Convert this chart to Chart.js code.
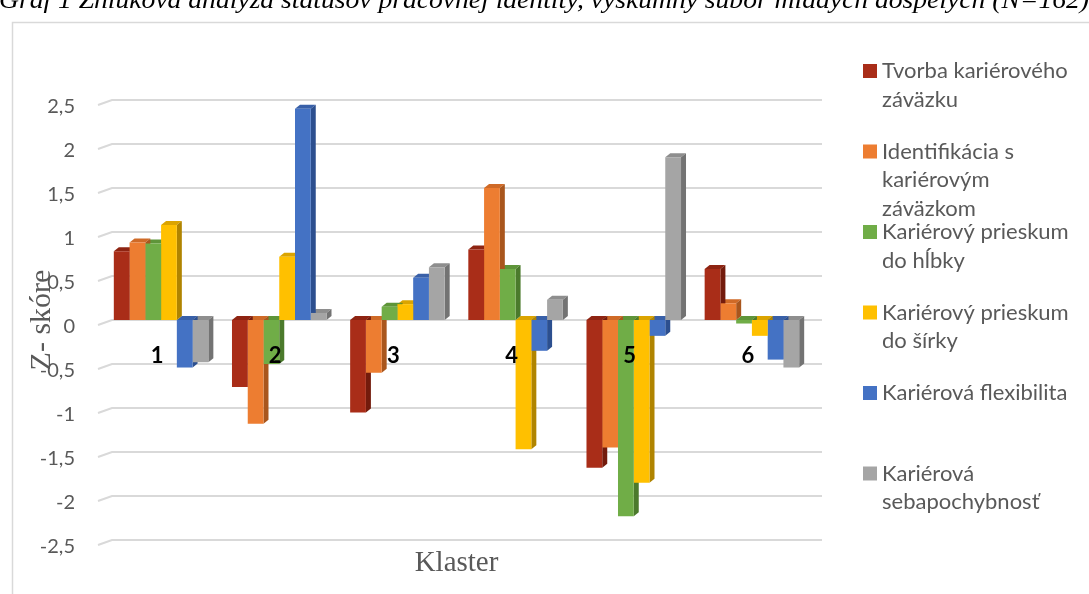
<!DOCTYPE html>
<html>
<head>
<meta charset="utf-8">
<script src="https://cdn.jsdelivr.net/npm/chart.js@4/dist/chart.umd.min.js"></script>
<style>
  html, body { margin: 0; padding: 0; background: #fff; overflow: hidden; }
  canvas { display: block; }
</style>
</head>
<body>
<canvas id="c" width="1089" height="594"></canvas>
<script>
// Cluster profiles (Z-scores) of the six career identity dimensions
const categories = ['1', '2', '3', '4', '5', '6'];
const tvorba         = [0.78, -0.76, -1.05,  0.80, -1.68,  0.58];
const identifikacia  = [0.88, -1.18, -0.60,  1.50, -1.45,  0.19];
const hlbka          = [0.87, -0.50,  0.15,  0.58, -2.23, -0.04];
const sirka          = [1.08,  0.72,  0.18, -1.47, -1.85, -0.18];
const flexibilita    = [-0.54, 2.40,  0.48, -0.35, -0.18, -0.45];
const sebapochybnost = [-0.48, 0.08,  0.60,  0.23,  1.85, -0.54];

const seriesNames = [
  ['Tvorba kariérového', 'záväzku'],
  ['Identifikácia s', 'kariérovým', 'záväzkom'],
  ['Kariérový prieskum', 'do hĺbky'],
  ['Kariérový prieskum', 'do šírky'],
  ['Kariérová flexibilita'],
  ['Kariérová', 'sebapochybnosť']
];
const seriesValues = [tvorba, identifikacia, hlbka, sirka, flexibilita, sebapochybnost];

const frontColors = ['#A92D18', '#ED7D31', '#70AD47', '#FFC000', '#4472C4', '#A5A5A5'];
const topColors   = ['#8E2412', '#CF6A27', '#5E9539', '#DBA400', '#3960A8', '#8E8E8E'];
const sideColors  = ['#731B0C', '#A9561D', '#4B7A2C', '#B08400', '#2C4F8F', '#737373'];

const tickValues = [-2.5, -2, -1.5, -1, -0.5, 0, 0.5, 1, 1.5, 2, 2.5];
const tickLabels = ['-2,5', '-2', '-1,5', '-1', '-0,5', '0', '0,5', '1', '1,5', '2', '2,5'];

const chartTitle = 'Graf 1 Zhluková analýza statusov pracovnej identity, výskumný súbor mladých dospelých (N=162)';
const yTitle = 'Z- skóre';
const xTitle = 'Klaster';

const DEPTH_X = 5, DEPTH_Y = 4;

// Page frame and the caption running along the top edge
const framePlugin = {
  id: 'frame',
  beforeDraw(chart) {
    const ctx = chart.ctx;
    ctx.save();
    ctx.fillStyle = '#fff';
    ctx.fillRect(0, 0, chart.width, chart.height);
    ctx.strokeStyle = '#D9D9D9';
    ctx.lineWidth = 1.5;
    ctx.strokeRect(12.5, 22.5, chart.width + 20, chart.height + 20);
    ctx.font = 'italic 25px "Liberation Serif"';
    ctx.fillStyle = '#000';
    ctx.textBaseline = 'alphabetic';
    const w = ctx.measureText(chartTitle).width;
    ctx.translate(-1, 8);
    ctx.scale(1090 / w, 1);
    ctx.fillText(chartTitle, 0, 0);
    ctx.restore();
  }
};

// Back-wall gridlines with the short floor slant, then the bar side/top faces
const depthPlugin = {
  id: 'depth',
  beforeDatasetsDraw(chart) {
    const ctx = chart.ctx;
    const ys = chart.scales.y;
    const area = chart.chartArea;
    ctx.save();
    ctx.strokeStyle = '#D9D9D9';
    ctx.lineWidth = 2;
    tickValues.forEach(v => {
      const y = Math.round(ys.getPixelForValue(v));
      ctx.beginPath();
      ctx.moveTo(area.left - 4, y + 5);
      ctx.lineTo(area.left + 10, y);
      ctx.lineTo(area.right + 11, y);
      ctx.stroke();
    });
    for (let d = chart.data.datasets.length - 1; d >= 0; d--) {
      const meta = chart.getDatasetMeta(d);
      meta.data.forEach(bar => {
        const p = bar.getProps(['x', 'y', 'base', 'width'], true);
        const l = p.x - p.width / 2, r = p.x + p.width / 2;
        const t = Math.min(p.y, p.base), b = Math.max(p.y, p.base);
        ctx.fillStyle = topColors[d];
        ctx.beginPath();
        ctx.moveTo(l, t);
        ctx.lineTo(l + DEPTH_X, t - DEPTH_Y);
        ctx.lineTo(r + DEPTH_X, t - DEPTH_Y);
        ctx.lineTo(r, t);
        ctx.closePath();
        ctx.fill();
        ctx.fillStyle = sideColors[d];
        ctx.beginPath();
        ctx.moveTo(r, t);
        ctx.lineTo(r + DEPTH_X, t - DEPTH_Y);
        ctx.lineTo(r + DEPTH_X, b - DEPTH_Y);
        ctx.lineTo(r, b);
        ctx.closePath();
        ctx.fill();
      });
    }
    ctx.restore();
  }
};

// Legend on the right with wrapped series names
const legendPlugin = {
  id: 'sideLegend',
  afterDraw(chart) {
    const ctx = chart.ctx;
    ctx.save();
    ctx.font = '22px Lato';
    ctx.textBaseline = 'middle';
    ctx.textAlign = 'left';
    seriesNames.forEach((lines, i) => {
      const y0 = 71 + i * 80.5;
      ctx.fillStyle = frontColors[i];
      ctx.fillRect(863, y0 - 7, 14, 14);
      ctx.fillStyle = '#595959';
      lines.forEach((line, j) => ctx.fillText(line, 882, y0 + j * 28.5));
    });
    ctx.restore();
  }
};

new Chart(document.getElementById('c'), {
  type: 'bar',
  data: {
    labels: categories,
    datasets: seriesValues.map((vals, i) => ({
      label: seriesNames[i].join(' '),
      data: vals,
      backgroundColor: frontColors[i],
      borderWidth: 0,
      categoryPercentage: 0.8,
      barPercentage: 1.0
    }))
  },
  options: {
    responsive: false,
    animation: false,
    devicePixelRatio: 1,
    layout: { padding: { left: 0, top: 100, right: 278, bottom: 0 } },
    plugins: { legend: { display: false }, tooltip: { enabled: false } },
    scales: {
      x: {
        type: 'category',
        position: { y: 0 },
        grid: { display: false, drawTicks: false },
        border: { display: false },
        ticks: {
          z: 1,
          color: '#000',
          font: { family: 'Lato', weight: 'bold', size: 22 },
          padding: 23,
          labelOffset: -4,
          maxRotation: 0,
          autoSkip: false
        }
      },
      x2: {
        type: 'category',
        labels: categories,
        position: 'bottom',
        grid: { display: false, drawTicks: false },
        border: { display: false },
        ticks: { display: false },
        title: {
          display: true,
          text: xTitle,
          color: '#595959',
          font: { family: 'Liberation Serif', size: 29 },
          padding: { top: 0, bottom: 13 }
        },
        afterFit(s) { s.height = 54; }
      },
      y: {
        min: -2.5,
        max: 2.5,
        afterBuildTicks(s) { s.ticks = tickValues.map(v => ({ value: v })); },
        grid: { display: false, drawTicks: false },
        border: { display: false },
        ticks: {
          callback: v => tickLabels[tickValues.indexOf(v)],
          color: '#595959',
          font: { family: 'Lato', size: 20 },
          padding: 27,
          labelOffset: 7
        },
        title: {
          display: true,
          text: yTitle,
          color: '#595959',
          font: { family: 'Liberation Serif', size: 30 },
          padding: { top: 24, bottom: 0 }
        },
        afterFit(s) { s.width = 102; }
      }
    }
  },
  plugins: [framePlugin, depthPlugin, legendPlugin]
});
</script>
</body>
</html>
